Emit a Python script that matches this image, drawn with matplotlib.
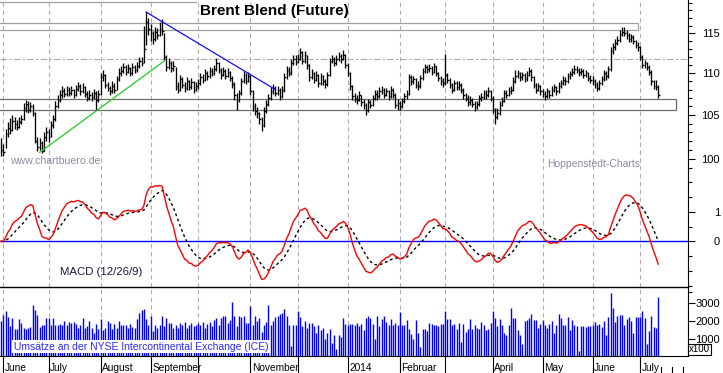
import numpy as np
import pandas as pd
import matplotlib
matplotlib.use("Agg")
import matplotlib.pyplot as plt
from matplotlib.patches import Rectangle
from matplotlib.ticker import NullFormatter
from matplotlib.transforms import blended_transform_factory

plt.rcParams['font.family'] = ['Liberation Sans', 'DejaVu Sans']

# ---------------- data (daily, business days from 2013-05-31) ----------------
START = '2013-05-31'
close_prices = [
    # Jun 2013 (incl. May 31)
    101.0, 100.8, 102.8, 103.5, 103.2, 104.3, 104.0, 103.6, 104.2, 104.5, 105.8, 106.3, 105.6, 106.0, 105.2, 102.0, 101.3, 101.8, 100.9, 102.5, 103.0,
    # Jul
    102.5, 103.8, 104.5, 106.0, 106.8, 107.3, 107.8, 107.5, 108.0, 107.6, 107.9, 107.4, 108.1, 108.4, 107.8, 108.3, 107.5, 107.0, 107.4, 107.1, 107.6, 106.8, 107.5,
    # Aug
    109.5, 109.8, 108.6, 108.2, 107.8, 108.5, 108.0, 109.3, 110.0, 110.3, 110.8, 110.2, 110.6, 110.0, 110.8, 110.4, 110.9, 111.5, 111.3, 113.0, 116.5, 115.5,
    # Sep
    115.0, 114.3, 115.2, 114.8, 115.6, 115.3, 112.0, 110.8, 111.3, 110.6, 110.9, 108.5, 108.0, 109.3, 108.6, 108.2, 109.0, 108.3, 108.9, 108.0, 108.4,
    # Oct
    108.8, 109.5, 109.2, 110.0, 109.6, 110.3, 110.0, 110.5, 111.2, 110.4, 109.8, 110.3, 109.7, 110.1, 109.4, 108.7, 107.3, 106.8, 107.6, 109.0, 109.8, 109.1, 109.6,
    # Nov
    107.8, 106.0, 105.5, 105.2, 104.5, 103.8, 105.5, 106.3, 107.0, 107.8, 108.2, 107.6, 108.0, 107.2, 107.9, 109.5, 110.4, 110.0, 111.3, 111.8, 111.4,
    # Dec
    111.8, 112.6, 111.5, 112.2, 111.0, 109.5, 110.0, 109.2, 109.8, 108.8, 109.6, 109.0, 108.7, 109.8, 111.5, 111.8, 111.3, 111.7, 112.1, 111.8, 112.2, 111.0,
    # Jan 2014
    110.0, 108.5, 107.2, 107.0, 106.8, 107.3, 106.5, 106.2, 105.6, 106.5, 106.2, 107.0, 107.5, 107.2, 107.8, 108.0, 107.4, 107.8, 107.2, 108.0, 107.4, 106.2, 106.4,
    # Feb
    106.0, 106.6, 107.2, 107.5, 109.5, 109.0, 109.3, 108.6, 108.4, 109.4, 110.3, 110.8, 110.5, 110.7, 110.2, 110.9, 110.0, 109.4, 109.0, 108.8,
    # Mar
    109.8, 109.2, 108.6, 108.0, 108.8, 108.3, 108.6, 108.0, 107.3, 107.0, 106.5, 106.8, 106.3, 105.9, 106.3, 107.0, 107.1, 107.6, 107.3, 107.8, 107.0,
    # Apr
    105.6, 104.8, 105.2, 106.2, 106.7, 107.6, 107.4, 107.8, 108.0, 109.0, 109.6, 110.0, 109.5, 109.8, 109.3, 109.8, 110.3, 109.5, 108.6, 108.0, 108.4, 107.8,
    # May
    107.5, 107.2, 107.8, 107.4, 108.0, 108.3, 107.8, 108.5, 108.8, 109.2, 109.0, 109.6, 109.9, 110.2, 110.5, 110.4, 110.1, 110.3, 109.8, 110.0, 109.4, 109.2,
    # Jun
    109.0, 108.6, 108.2, 108.8, 109.3, 110.0, 109.6, 110.5, 112.8, 113.2, 113.8, 114.2, 114.9, 115.2, 115.0, 114.8, 114.3, 114.5, 114.0, 113.5, 113.3,
    # Jul
    112.0, 111.0, 111.2, 110.8, 110.2, 109.0, 108.5, 108.3, 107.3,
]
high_prices = [
    102.3, 101.6, 103.4, 104.2, 104.6, 105.0, 104.8, 104.4, 104.8, 105.0, 106.4, 106.8, 106.6, 106.5, 106.3, 105.3, 102.4, 102.3, 102.0, 103.0, 103.6,
    103.4, 104.3, 105.0, 106.6, 107.3, 107.9, 108.4, 108.2, 108.5, 108.3, 108.4, 108.1, 108.6, 108.9, 108.7, 108.8, 108.4, 107.8, 107.9, 107.7, 108.1, 107.8, 108.0,
    110.0, 110.4, 109.9, 108.9, 108.5, 109.0, 108.8, 109.7, 110.6, 110.9, 111.3, 111.0, 111.1, 110.8, 111.2, 111.0, 111.4, 112.0, 112.0, 116.0, 117.8, 117.0,
    116.2, 115.3, 115.8, 115.7, 116.4, 116.8, 115.0, 112.2, 111.9, 111.5, 111.5, 110.8, 108.9, 109.8, 109.5, 108.9, 109.5, 109.2, 109.4, 109.0, 108.9,
    109.3, 110.0, 109.9, 110.5, 110.3, 110.8, 110.7, 111.0, 111.9, 111.4, 110.6, 110.8, 110.5, 110.6, 110.3, 109.6, 108.9, 107.6, 108.0, 109.4, 110.3, 110.0, 110.1,
    109.8, 108.0, 106.4, 105.9, 105.4, 104.8, 105.9, 106.8, 107.5, 108.3, 108.7, 108.5, 108.5, 108.2, 108.4, 110.0, 110.9, 110.8, 111.8, 112.3, 112.2,
    112.4, 113.1, 112.8, 112.7, 112.3, 111.1, 110.5, 110.2, 110.3, 109.9, 110.0, 109.8, 109.3, 110.2, 111.9, 112.3, 112.0, 112.2, 112.6, 112.4, 112.85, 112.4,
    111.2, 110.2, 108.6, 107.6, 107.4, 107.8, 107.4, 106.9, 106.4, 106.9, 106.8, 107.4, 108.0, 107.9, 108.3, 108.4, 108.2, 108.2, 108.0, 108.4, 108.2, 107.6, 106.9,
    106.7, 107.0, 107.6, 108.0, 109.9, 109.8, 109.7, 109.4, 109.0, 109.8, 110.7, 111.1, 111.0, 111.1, 110.9, 111.3, 110.9, 110.2, 109.6, 109.4,
    112.4, 110.0, 109.4, 108.8, 109.2, 109.0, 109.1, 108.8, 108.2, 107.6, 107.3, 107.2, 107.0, 106.6, 106.7, 107.4, 107.6, 108.0, 107.9, 108.3, 108.0,
    107.2, 105.8, 105.8, 106.6, 107.1, 108.0, 108.0, 108.3, 108.4, 109.5, 110.4, 110.4, 110.2, 110.2, 110.0, 110.3, 110.8, 110.5, 109.7, 108.8, 108.8, 108.6,
    108.1, 107.8, 108.2, 108.0, 108.4, 108.7, 108.5, 108.9, 109.2, 109.6, 109.5, 110.0, 110.3, 110.6, 111.0, 110.9, 110.7, 110.7, 110.5, 110.4, 110.2, 109.8,
    109.7, 109.3, 108.9, 109.2, 109.7, 110.4, 110.3, 110.9, 113.2, 113.8, 114.3, 114.7, 115.4, 115.8, 115.8, 115.4, 115.0, 114.9, 114.8, 114.2, 113.9,
    113.4, 112.2, 111.6, 111.4, 111.0, 110.4, 109.2, 109.2, 108.6,
]
low_prices = [
    100.3, 100.3, 101.2, 102.5, 102.8, 103.1, 103.4, 103.3, 103.5, 103.9, 104.4, 105.3, 105.2, 105.3, 104.9, 101.8, 100.9, 101.0, 100.6, 100.9, 102.0,
    101.9, 102.4, 103.5, 104.3, 105.8, 106.5, 107.0, 107.1, 107.2, 107.2, 107.3, 107.0, 107.2, 107.8, 107.4, 107.6, 107.1, 106.6, 106.8, 106.7, 106.9, 105.6, 106.5,
    107.3, 109.0, 108.2, 107.8, 107.3, 107.6, 107.6, 107.9, 109.1, 109.7, 110.0, 109.8, 110.0, 109.6, 109.8, 110.0, 110.2, 110.7, 110.9, 111.2, 113.5, 114.8,
    114.0, 113.6, 114.0, 114.3, 114.6, 114.8, 111.6, 110.3, 110.5, 110.2, 110.3, 107.9, 107.6, 107.8, 108.2, 107.7, 108.0, 107.9, 108.1, 107.6, 107.8,
    108.1, 108.6, 108.8, 109.0, 109.2, 109.4, 109.6, 109.8, 110.3, 110.0, 109.3, 109.6, 109.3, 109.5, 109.0, 108.2, 106.8, 105.6, 106.5, 107.4, 108.8, 108.7, 108.9,
    107.4, 105.5, 105.0, 104.6, 104.0, 103.1, 103.6, 105.2, 106.0, 106.8, 107.5, 107.2, 107.4, 106.8, 107.0, 107.7, 109.3, 109.6, 109.8, 111.0, 111.0,
    111.2, 111.6, 111.1, 111.3, 110.5, 109.0, 109.3, 108.8, 109.0, 108.3, 108.6, 108.6, 108.2, 108.5, 109.6, 111.2, 110.9, 111.0, 111.5, 111.3, 111.6, 110.6,
    109.6, 108.0, 106.8, 106.5, 106.3, 106.6, 106.0, 105.7, 105.0, 105.4, 105.8, 106.0, 106.8, 106.8, 107.0, 107.5, 107.0, 107.2, 106.8, 107.0, 107.0, 105.8, 105.6,
    105.6, 105.8, 106.4, 106.9, 107.3, 108.6, 108.7, 108.2, 108.0, 108.2, 109.2, 110.0, 110.0, 110.1, 109.8, 110.0, 109.6, 109.0, 108.6, 108.3,
    108.6, 108.8, 108.2, 107.6, 107.8, 107.9, 108.0, 107.6, 106.9, 106.6, 106.1, 106.2, 105.9, 105.5, 105.7, 106.1, 106.7, 106.9, 106.9, 107.1, 106.6,
    105.2, 104.0, 104.5, 105.0, 106.0, 106.5, 107.0, 107.2, 107.5, 107.8, 108.8, 109.4, 109.1, 109.2, 108.9, 109.1, 109.6, 109.1, 108.2, 107.6, 107.8, 107.4,
    107.1, 106.8, 107.0, 107.0, 107.2, 107.7, 107.4, 107.6, 108.2, 108.6, 108.6, 108.8, 109.3, 109.6, 109.9, 110.0, 109.7, 109.8, 109.4, 109.5, 109.0, 108.8,
    108.6, 108.2, 107.8, 108.0, 108.6, 109.1, 109.2, 109.4, 110.3, 112.4, 112.9, 113.5, 113.9, 114.6, 114.6, 114.3, 113.9, 113.9, 113.6, 113.1, 112.8,
    111.6, 110.6, 110.7, 110.4, 109.8, 108.6, 108.1, 107.9, 107.0,
]
volume_x100 = [
    1980, 2360, 2550, 2230, 1700, 2180, 1560, 1560, 2130, 1880, 1620, 1530, 1600, 1650, 2890, 2600, 2360, 1660, 1800, 1800, 2150,
    2170, 1780, 2150, 1750, 1780, 1840, 1750, 2020, 1760, 1950, 1880, 1950, 1840, 1620, 1800, 2150, 1620, 1700, 2000, 1620, 1330, 1850, 1560,
    2130, 1470, 1620, 2000, 1900, 1530, 1850, 1620, 2000, 1760, 1800, 1760, 1600, 1850, 1680, 1620, 2100, 2430, 2620, 2700, 2130, 1800,
    2300, 1450, 1800, 1600, 1780, 2300, 1700, 2150, 1900, 1900, 1600, 1800, 1600, 1900, 1800, 1960, 1600, 1800, 1900, 1700, 1800,
    1900, 1800, 1950, 1600, 1850, 1950, 1700, 2050, 2150, 1800, 2150, 2280, 2280, 1900, 2030, 3100, 2280, 1700, 2280, 2200, 2300, 1900, 1900,
    2830, 1800, 2280, 2000, 2160, 1400, 1800, 1950, 2890, 1800, 2000, 2200, 2300, 2400, 2450, 2660, 2300, 1800, 585, 1800, 1800,
    2550, 2200, 1700, 2000, 1600, 1900, 1900, 1700, 1300, 1800, 1500, 1600, 1000, 1300, 1550, 755, 1200, 400, 1230, 1100, 2150, 1850,
    1800, 1850, 1820, 1750, 1900, 1720, 1850, 1470, 2170, 2280, 2170, 1850, 960, 2280, 1720, 2090, 2280, 1940, 1790, 2130, 1750, 1900, 1800,
    2510, 1750, 1790, 2040, 1570, 1280, 1000, 2040, 1300, 530, 1530, 1570, 1450, 1900, 1850, 1750, 1800, 1700, 1850, 1850,
    2550, 2130, 2100, 1790, 1850, 1570, 1900, 810, 1850, 1380, 1570, 2090, 1570, 1750, 1600, 1530, 1940, 1750, 1470, 1570, 1900,
    2550, 2150, 1700, 2100, 1750, 1350, 1200, 1750, 2740, 2180, 2180, 1500, 1200, 700, 2000, 2050, 2180, 2400, 2050, 2050, 1600, 1850,
    2050, 1800, 1600, 1850, 2000, 1300, 1750, 2400, 2150, 1800, 1800, 2200, 1500, 2050, 1800, 1700, 280, 1700, 1700, 1650, 1700, 1700,
    1800, 1950, 1750, 1850, 1650, 2000, 1200, 2200, 3580, 2740, 1950, 2300, 2350, 2350, 1800, 2100, 2200, 2000, 1350, 2200, 2250,
    2200, 2570, 2150, 680, 1450, 2300, 1680, 1580, 3360,
]

month_starts = ['2013-06-03', '2013-07-01', '2013-08-01', '2013-09-02', '2013-10-01', '2013-11-01',
                '2013-12-02', '2014-01-01', '2014-02-03', '2014-03-03', '2014-04-01', '2014-05-01',
                '2014-06-02', '2014-07-01']
month_labels = ['June', 'July', 'August', 'September', '', 'November', '', '2014', 'Februar', '',
                'April', 'May', 'June', 'July']
future_weeks = ['2014-07-14', '2014-07-21', '2014-07-28']

price_ticks = [100, 105, 110, 115]
macd_ticks = [0, 1]
volume_ticks = [1000, 2000, 3000]

# analyst drawings (price levels / dates)
upper_zone = (115.47, 116.33, '2014-06-30')
lower_zone = (105.53, 106.86, '2014-07-23')
resistance_level = 111.8
top_level = (119.07, '2013-09-30')
down_trend = (('2013-08-29', 117.76), ('2013-11-18', 108.02))
up_trend = (('2013-06-25', 100.7), ('2013-09-10', 111.5))

# ---------------- layout ----------------
W, H = 723, 373
fig = plt.figure(figsize=(W / 100, H / 100), dpi=100)
def fy(px):
    return 1 - px / H
XR = 687.7 / W
axp = fig.add_axes([0, fy(170), XR, 170 / H])
axm = fig.add_axes([0, fy(287.3), XR, (287.3 - 170) / H])
axv = fig.add_axes([0, fy(356.4), XR, (356.4 - 287.3) / H])

n = len(close_prices)
idx = np.arange(n)
def pos(d):
    return float(np.busday_count(START, d))

XLIM = (-0.456, 303.0)
grid_c = '#b4acbc'
mpos = [pos(d) for d in month_starts]

for ax in (axp, axm, axv):
    ax.set_xlim(*XLIM)
    for s in ('left', 'top', 'bottom'):
        ax.spines[s].set_visible(False)
    ax.spines['right'].set_linewidth(0.8)
    ax.yaxis.tick_right()
    ax.tick_params(axis='x', which='both', bottom=False, top=False, labelbottom=False)
    for p in mpos:
        ax.axvline(p, color=grid_c, lw=0.8, ls=(0, (4, 3)), zorder=0)

# ---------------- price panel ----------------
axp.set_yscale('log')
axp.set_ylim(98.75, 119.35)
axp.set_yticks(price_ticks)
axp.set_yticklabels([str(t) for t in price_ticks])
axp.set_yticks([v for v in range(99, 120) if v not in price_ticks], minor=True)
axp.yaxis.set_minor_formatter(NullFormatter())

hi = np.array(high_prices)
lo = np.array(low_prices)
cl = np.array(close_prices)
axp.vlines(idx, lo, hi, color='black', lw=0.95, zorder=3)
axp.hlines(cl, idx, idx + 0.75, color='black', lw=0.95, zorder=3)

axp.axhline(resistance_level, color='#b4a4bc', lw=0.8, ls=(0, (6, 2, 2, 2)), zorder=1)
x0 = XLIM[0] - 2
axp.add_patch(Rectangle((x0, upper_zone[0]), pos(upper_zone[2]) - x0, upper_zone[1] - upper_zone[0],
                        fill=False, ec='#a0a0a0', lw=0.9, zorder=2))
axp.add_patch(Rectangle((x0, lower_zone[0]), pos(lower_zone[2]) - x0, lower_zone[1] - lower_zone[0],
                        fill=False, ec='#6c6c6c', lw=0.9, zorder=2))
axp.plot([x0, pos(top_level[1])], [top_level[0]] * 2, color='#a0a0a0', lw=0.9)
axp.plot([pos(down_trend[0][0]), pos(down_trend[1][0])], [down_trend[0][1], down_trend[1][1]],
         color='#1010ff', lw=0.9, zorder=4)
axp.plot([pos(up_trend[0][0]), pos(up_trend[1][0])], [up_trend[0][1], up_trend[1][1]],
         color='#22cc22', lw=0.9, zorder=4)

# ---------------- MACD panel ----------------
s = pd.Series(cl)
macd = s.ewm(span=12, adjust=False).mean() - s.ewm(span=26, adjust=False).mean()
signal = macd.ewm(span=9, adjust=False).mean()
axm.set_ylim(-1.554, 2.409)
axm.axhline(0, color='#0000ff', lw=1.0, zorder=2)
axm.plot(idx, macd, color='#ff0000', lw=1.0, zorder=4)
axm.plot(idx, signal, color='black', lw=1.0, ls=(0, (2, 2)), zorder=3)
axm.set_yticks(macd_ticks)
axm.set_yticklabels([str(t) for t in macd_ticks])
axm.set_yticks([-1.5, -1, -0.5, 0.5, 1.5, 2], minor=True)

# ---------------- volume panel ----------------
axv.set_ylim(0, 3904)
axv.vlines(idx, 0, volume_x100, color='#0000ff', lw=1.0, zorder=3)
axv.spines['top'].set_visible(True)
axv.spines['top'].set_linewidth(1.0)
axv.spines['bottom'].set_visible(True)
axv.spines['bottom'].set_linewidth(0.8)
axv.set_yticks(volume_ticks)
axv.set_yticklabels([str(t) for t in volume_ticks])
axv.set_yticks([3650], minor=True)
axv.set_xticks(mpos)
axv.tick_params(axis='x', which='major', bottom=True, length=12.2, width=0.8, direction='out',
                labelbottom=False, color='black')
bt = blended_transform_factory(axv.transData, axv.transAxes)
for p, lab in zip(mpos, month_labels):
    if lab:
        axv.text(p + 0.7, (356.4 - 370.8) / 69.1, lab, transform=bt, ha='left', va='baseline',
                 fontsize=7.3, color='black')
for d in future_weeks:
    p = pos(d)
    axv.plot([p, p], [(356.4 - 366.5) / 69.1, (356.4 - 372.5) / 69.1], transform=bt,
             color='black', lw=0.8, clip_on=False)

for ax in (axp, axm, axv):
    ax.tick_params(axis='y', which='major', length=5, width=0.8, pad=18.3, labelsize=8, colors='black')
    ax.tick_params(axis='y', which='minor', length=3, width=0.8)
    for lab in ax.get_yticklabels():
        lab.set_horizontalalignment('right')

# ---------------- texts ----------------
fig.text(200 / W, fy(11), 'Brent Blend (Future)', fontsize=11, fontweight='bold',
         ha='left', va='center', color='black')
fig.text(10 / W, fy(161.5), 'www.chartbuero.de', fontsize=7.6, color='#8c8ca4', ha='left', va='center')
fig.text(547 / W, fy(164), 'Hoppenstedt-Charts', fontsize=7.5, color='#8c8ca4', ha='left', va='center')
fig.text(60 / W, fy(272), 'MACD (12/26/9)', fontsize=8.2, color='#1a1a3a', ha='left', va='center')
fig.text(14 / W, fy(346.5), 'Umsätze an der NYSE Intercontinental Exchange (ICE)', fontsize=7.5,
         color='#2a2aff', ha='left', va='center', zorder=10,
         bbox=dict(facecolor='white', edgecolor='none', pad=1.2))
fig.text(699.5 / W, fy(349.5), 'x100', fontsize=7, color='black', ha='center', va='center',
         bbox=dict(facecolor='white', edgecolor='black', lw=0.8, pad=0.6))

fig.savefig('out.png', dpi=100)
